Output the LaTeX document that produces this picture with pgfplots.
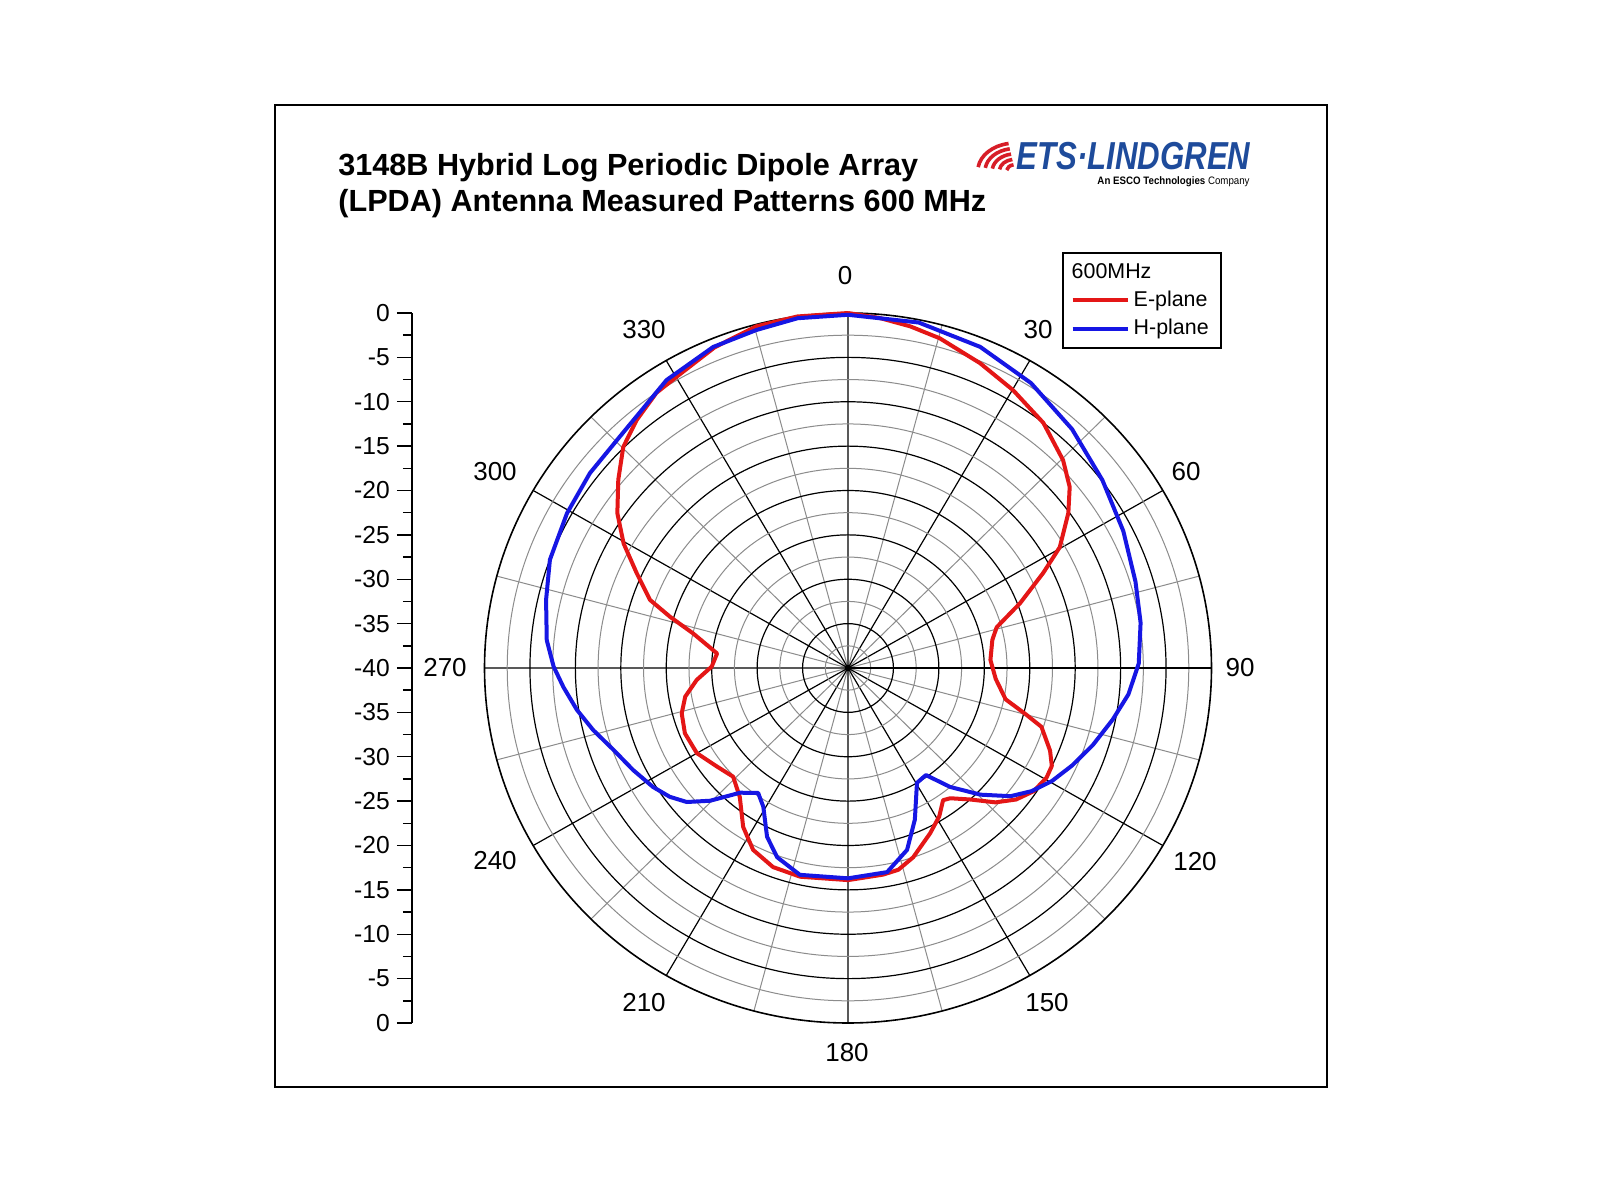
\documentclass[border=0pt]{standalone}
\usepackage{pgfplots}
\pgfplotsset{compat=1.18}
\usepackage{pgfplotstable}
\usepgfplotslibrary{polar}
\usetikzlibrary{calc}
\usepackage{fontspec}
\setmainfont{Liberation Sans}
\usepackage{graphicx}
\definecolor{ered}{RGB}{228,22,22}
\definecolor{hblue}{RGB}{22,22,228}
\definecolor{etsblue}{RGB}{30,75,155}
\definecolor{etsred}{RGB}{215,30,40}
\definecolor{gridgray}{RGB}{140,140,140}

% theta: compass angle (deg, clockwise from top); r = level in dB + 40
\pgfplotstableread{
theta r
0 40
5 39.6
10.1 39.1
15.2 38.5
22.9 37.3
30.1 36.2
37.9 35.0
45.3 33.3
50.1 31.8
54.2 29.9
59.7 27.0
63.5 24.0
68.9 20.3
74.3 17.0
78.7 16.2
86.7 15.7
94.3 16.3
101.5 17.7
105 20.3
107.3 22.3
112.7 24.1
116.2 25.0
119.5 25.1
124.2 24.7
128.7 23.7
133 22.2
137.8 20.0
142.5 18.5
144.9 18.2
149 19.5
154.1 20.7
161.4 22.5
166.3 23.4
170.6 23.6
180 23.9
192.6 24.1
200.2 23.9
207 23.0
212.8 21.3
219.3 18.8
225.9 17.6
232.4 18.2
240 19.2
247.7 19.4
254.4 19.0
259.8 18.2
265.4 16.7
270.6 15.0
276.5 14.5
282.9 17.5
286.4 20.4
289.4 23.1
294.7 25.6
299.6 28.4
304.5 30.8
310 33.0
315.2 35.1
320.2 36.35
325.8 37.5
330.1 37.85
337.9 39.0
345.3 39.8
352 40
360 40
}\eplane

\pgfplotstableread{
theta r
0 39.8
11.3 39.7
21.9 39.0
32.1 37.9
42.5 36.5
52.9 35.1
63 34.0
72.9 33.1
81 32.6
89.1 32.0
95.5 31.0
101.3 29.7
107.9 28.3
114 27.0
119.6 25.8
124.5 24.5
128.9 23.0
134.4 20.4
140 17.5
144.6 14.8
149.6 15.0
156.7 18.6
162.4 21.5
169.4 23.4
180 23.7
192.8 23.9
200.1 22.7
205.1 21.0
210.8 18.2
215.1 17.2
220.2 18.4
225.4 21.3
229.6 23.3
233.5 24.4
238 25.3
244.1 26.3
250.3 27.4
256 28.9
261 30.2
266.1 31.4
270.3 32.4
275.4 33.3
283 34.1
290.4 35.0
299.4 35.5
307.7 35.9
316.1 36.2
328.4 38.1
337.7 39.1
345.2 39.4
352 39.8
360 39.8
}\hplane

\begin{document}
\begin{tikzpicture}[x=1pt,y=1pt]
\fill[white] (0,0) rectangle (800,600);
\draw[line width=1.35pt] (137.5,56.5) rectangle (663.5,547.5);

% title
\node[anchor=base west, inner sep=0pt, font=\fontsize{15.3}{18}\selectfont\bfseries] at (169,512.3) {3148B Hybrid Log Periodic Dipole Array};
\node[anchor=base west, inner sep=0pt, font=\fontsize{15.3}{18}\selectfont\bfseries] at (169,494) {(LPDA) Antenna Measured Patterns 600 MHz};

% logo
\foreach \rr in {4.2,7.8,11.4,15.0,18.6} {
  \draw[etsred, line width=1.8pt] ($(507.5,514.5)+(100:\rr pt and 0.75*\rr pt)$)
     arc[start angle=100, end angle=172, x radius=\rr pt, y radius=0.75*\rr pt];
}
\node[anchor=base west, inner sep=0pt, text=etsblue] at (508,515) {\fontsize{19.5}{22}\selectfont\bfseries\itshape\scalebox{0.8}[1]{ETS·LINDGREN}};
\node[anchor=base east, inner sep=0pt] at (625,507.6) {\fontsize{5.4}{6}\selectfont\scalebox{0.9}[1]{\bfseries An ESCO Technologies \mdseries Company}};

% angle labels
\begin{scope}[every node/.style={font=\fontsize{13}{15}\selectfont, inner sep=0pt, anchor=center}]
\node at (422.5,462) {0};
\node at (519,435) {30};
\node at (593,364) {60};
\node at (620,266) {90};
\node at (597.5,169) {120};
\node at (523.5,98.5) {150};
\node at (423.5,73.5) {180};
\node at (322,98.5) {210};
\node at (247.5,169.5) {240};
\node at (222.5,266) {270};
\node at (247.5,364) {300};
\node at (322,435) {330};
\end{scope}

% left dB scale
\begin{axis}[
  at={(205.9pt,266pt)}, anchor=west,
  scale only axis, width=20pt, height=355pt,
  ymin=-40, ymax=40, xmin=0, xmax=1,
  axis x line=none, axis y line*=left,
  axis line style={black, line width=0.7pt, -},
  ytick={-40,-35,...,40},
  yticklabels={0,-5,-10,-15,-20,-25,-30,-35,-40,-35,-30,-25,-20,-15,-10,-5,0},
  minor ytick={-37.5,-32.5,...,37.5},
  tick align=outside, major tick length=7.5pt, minor tick length=4.5pt,
  every tick/.style={black, line width=0.7pt},
  yticklabel style={font=\fontsize{12.3}{14}\selectfont},
  /pgf/number format/assume math mode=true,
]
\end{axis}

% polar plot
\begin{polaraxis}[
  at={(424pt,266pt)}, anchor=center,
  scale only axis, width=363.5pt, height=355pt,
  xmin=0, xmax=360, ymin=0, ymax=40,
  xtick={0,30,...,330}, minor xtick={15,45,...,345},
  ytick={5,10,...,35}, minor ytick={2.5,7.5,...,37.5},
  xticklabels={}, yticklabels={},
  grid=both,
  major grid style={black, line width=0.6pt},
  minor grid style={gridgray, line width=0.5pt},
  axis line style={black, line width=0.8pt},
  major tick length=0pt, minor tick length=0pt,
  clip=false,
  legend style={at={(0.794,1.086)}, anchor=north west, draw=black, line width=1pt,
    font=\fontsize{10.7}{12}\selectfont, inner xsep=4pt, inner ysep=3.2pt,
    row sep=0.9pt, cells={anchor=west}},
  legend image code/.code={\draw[#1] (0pt,0pt) -- (27.5pt,0pt);},
]
\addlegendimage{empty legend}
\addlegendentry{\hspace*{-31pt}600MHz}
\addplot[ered, line width=2pt, line join=round] table[x expr={90-\thisrow{theta}}, y=r] {\eplane};
\addlegendentry{E-plane}
\addplot[hblue, line width=2pt, line join=round] table[x expr={90-\thisrow{theta}}, y=r] {\hplane};
\addlegendentry{H-plane}
\end{polaraxis}

\pgfresetboundingbox
\path[use as bounding box] (0,0) rectangle (800,600);
\end{tikzpicture}
\end{document}
